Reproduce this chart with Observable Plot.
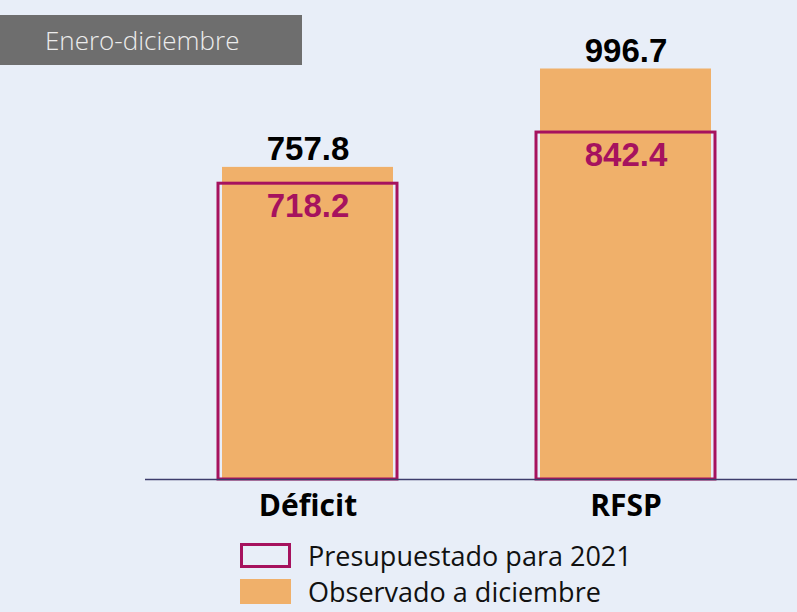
<!DOCTYPE html>
<html><head><meta charset="utf-8">
<script src="https://cdn.jsdelivr.net/npm/d3@7"></script>
<script src="https://cdn.jsdelivr.net/npm/@observablehq/plot@0.6"></script>
<style>
html,body{margin:0;padding:0;background:#e8eef8;width:797px;height:612px;overflow:hidden;}
#wrap{position:relative;width:797px;height:612px;}
#chart{position:absolute;left:0;top:0;}
#title{position:absolute;left:0;top:15px;width:302px;height:50px;background:#6e6e6e;color:#ececec;font:300 26px "Open Sans",sans-serif;line-height:50px;box-sizing:border-box;padding-left:45px;}
#legend{position:absolute;left:240px;top:540px;font:400 27px "Open Sans",sans-serif;color:#111;}
.row{display:flex;align-items:center;height:30px;margin-bottom:6px;}
.row span{line-height:1;}
.sw{width:51px;height:25px;box-sizing:border-box;margin-right:17px;flex:none;}
</style></head><body>
<div id="wrap"><div id="chart"></div><div id="title"></div><div id="legend"></div></div>
<script>
const titleText = "Enero-diciembre";
const categories = ["Déficit", "RFSP"];
const presupuestado = [718.2, 842.4];
const observado = [757.8, 996.7];
const legendLabels = ["Presupuestado para 2021", "Observado a diciembre"];

const colObs = "#f0b06a";
const colPres = "#a6125e";

const data = categories.map((c, i) => ({cat: c, pres: presupuestado[i], obs: observado[i]}));

const chart = Plot.plot({
  width: 797,
  height: 540,
  marginTop: 0,
  marginBottom: 61,
  marginLeft: 145,
  marginRight: 0,
  style: {background: "transparent", fontFamily: "'Open Sans', sans-serif", overflow: "visible"},
  x: {domain: categories, paddingInner: 0.4357, paddingOuter: 0.2398, align: 0.47, label: null},
  y: {domain: [0, 1163], axis: null},
  marks: [
    Plot.barY(data, {x: "cat", y: "obs", fill: colObs, insetLeft: 4, insetRight: 4}),
    Plot.barY(data, {x: "cat", y: "pres", fill: "none", stroke: colPres, strokeWidth: 3}),
    Plot.ruleY([0], {stroke: "#3c3c6c", strokeWidth: 1.5}),
    Plot.text(data, {x: "cat", y: "obs", text: d => d.obs.toFixed(1), lineAnchor: "bottom", dy: -7,
      fontSize: 33, fontWeight: "bold", fill: "#000", fontFamily: "'Liberation Sans', Arial, sans-serif"}),
    Plot.text(data, {x: "cat", y: "pres", text: d => d.pres.toFixed(1), lineAnchor: "top", dy: 10,
      fontSize: 33, fontWeight: "bold", fill: colPres, fontFamily: "'Liberation Sans', Arial, sans-serif"}),
    Plot.axisX({tickSize: 0, tickPadding: 15, fontSize: 30, fontWeight: 700, fill: "#000",
      fontFamily: "'Open Sans', sans-serif", label: null})
  ]
});
document.getElementById("chart").appendChild(chart);
document.getElementById("title").textContent = titleText;

const legend = document.getElementById("legend");
legendLabels.forEach((lab, i) => {
  const row = document.createElement("div");
  row.className = "row";
  const sw = document.createElement("div");
  sw.className = "sw";
  if (i === 0) { sw.style.border = "3px solid " + colPres; sw.style.background = "transparent"; }
  else { sw.style.background = colObs; }
  const t = document.createElement("span");
  t.textContent = lab;
  row.appendChild(sw); row.appendChild(t);
  legend.appendChild(row);
});
</script>
</body></html>
